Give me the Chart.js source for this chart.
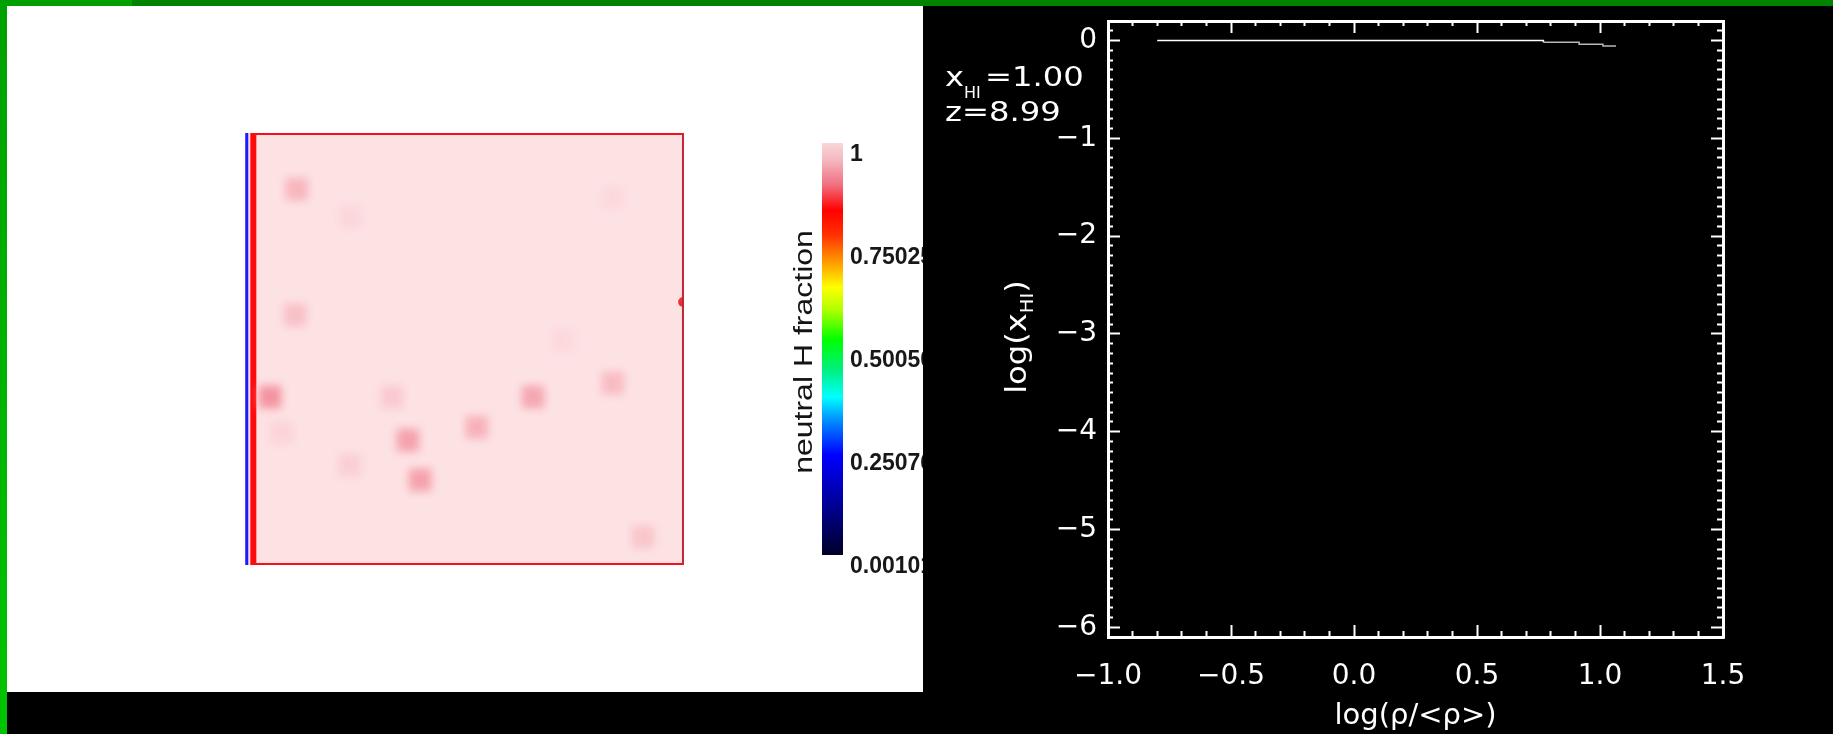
<!DOCTYPE html>
<html>
<head>
<meta charset="utf-8">
<script src="https://cdn.jsdelivr.net/npm/chart.js@4.4.1/dist/chart.umd.min.js"></script>
<style>
  html, body { margin: 0; padding: 0; }
  body { width: 1833px; height: 734px; background: #000; position: relative; overflow: hidden; }
  #greenTop { position: absolute; left: 0; top: 0; width: 1833px; height: 6px; background: #008400; }
  #greenTopLeft { position: absolute; left: 0; top: 0; width: 132px; height: 6px; background: #00a000; }
  #greenLeft { position: absolute; left: 0; top: 0; width: 7px; height: 734px; background: linear-gradient(#00a000, #00c400); }
  #leftPanel { position: absolute; left: 7px; top: 6px; width: 916px; height: 686px; background: #fff; }
  canvas { position: absolute; }
</style>
</head>
<body>
<div id="greenTop"></div>
<div id="greenTopLeft"></div>
<div id="greenLeft"></div>
<div id="leftPanel"></div>
<canvas id="map" width="459" height="452" style="left:235px;top:123px"></canvas>
<canvas id="cbar" width="163" height="480" style="left:760px;top:120px"></canvas>
<canvas id="plot" width="910" height="728" style="left:923px;top:6px"></canvas>

<script>
  // ---- slice of the box: a few slightly ionized cells on a fully neutral background ----
  const cellX = [0.118, 0.239, 0.114, 0.057, 0.335, 0.371, 0.528, 0.656, 0.838, 0.239, 0.399, 0.907, 0.838, 0.724, 0.084];
  const cellY = [0.870, 0.806, 0.579, 0.389, 0.389, 0.289, 0.319, 0.389, 0.421, 0.231, 0.197, 0.065, 0.850, 0.521, 0.306];
  const cellShade = [0.45, 0.12, 0.35, 0.80, 0.25, 0.65, 0.50, 0.60, 0.40, 0.20, 0.65, 0.30, 0.10, 0.10, 0.15];
  const hotX = [0.998];
  const hotY = [0.609];
  const rimX = [0.004, 0.019];
  const mapExtent = [0, 1];

  // ---- colour bar ----
  const cbTicks = [0.00101, 0.25076, 0.50050, 0.75025, 1];
  const cbLabels = ['0.00101', '0.25076', '0.50050', '0.75025', '1'];
  const rampStops = [0, 0.133, 0.243, 0.328, 0.383, 0.449, 0.522, 0.595, 0.650, 0.687, 0.728, 0.777, 0.837, 0.898, 0.959, 1];
  const rampColors = ['#000028', '#0000a0', '#0000ff', '#0090ff', '#00ffff', '#00f080', '#00ff00', '#b0ff00',
                      '#ffff00', '#ffc000', '#ff8000', '#ff3000', '#ff0000', '#f07080', '#f4b8c0', '#f9d6da'];

  // ---- x_HI against overdensity ----
  const logDensity = [-0.80, 0.77, 0.915, 1.012, 1.065];
  const logXHI = [0.0, -0.018, -0.037, -0.055, -0.055];
  const xMajor = [-1.0, -0.5, 0.0, 0.5, 1.0, 1.5];
  const xLabels = ['\u22121.0', '\u22120.5', '0.0', '0.5', '1.0', '1.5'];
  const yMajor = [0, -1, -2, -3, -4, -5, -6];
  const yLabels = ['0', '\u22121', '\u22122', '\u22123', '\u22124', '\u22125', '\u22126'];

  Chart.defaults.font.family = "'DejaVu Sans', sans-serif";
  Chart.defaults.animation = false;
  Chart.defaults.responsive = false;
  Chart.defaults.devicePixelRatio = 1;
  Chart.defaults.layout.autoPadding = false;
  Chart.defaults.plugins.legend.display = false;
  Chart.defaults.plugins.tooltip.enabled = false;

  // keep first/last tick labels from pushing the plot area inwards
  function noLabelOverflow(s) {
    s.paddingTop = 0; s.paddingBottom = 0; s.paddingLeft = 0; s.paddingRight = 0;
  }

  function shadeColor(s) {
    const bg = [253, 226, 228], deep = [240, 128, 144];
    const c = bg.map((v, i) => Math.round(v + (deep[i] - v) * s));
    return `rgb(${c[0]},${c[1]},${c[2]})`;
  }

  const mapPaper = {
    id: 'mapPaper',
    beforeDatasetsDraw(chart) {
      const {ctx, chartArea: a} = chart;
      ctx.save();
      ctx.fillStyle = '#fde2e4';
      ctx.fillRect(a.left, a.top, a.right - a.left, a.bottom - a.top);
      ctx.restore();
    },
    beforeDatasetDraw(chart, args) {
      if (args.index === 0) { chart.ctx.save(); chart.ctx.filter = 'blur(4px)'; }
    },
    afterDatasetDraw(chart, args) {
      if (args.index === 0) chart.ctx.restore();
    },
    afterDatasetsDraw(chart) {
      const {ctx, chartArea: a} = chart;
      const x0 = chart.scales.x.getPixelForValue(rimX[1]);
      ctx.save();
      ctx.strokeStyle = '#f5101c';
      ctx.lineWidth = 2;
      ctx.beginPath();
      ctx.moveTo(x0, a.top + 1); ctx.lineTo(a.right, a.top + 1);
      ctx.moveTo(x0, a.bottom - 1); ctx.lineTo(a.right, a.bottom - 1);
      ctx.stroke();
      ctx.strokeStyle = '#c42838';
      ctx.beginPath();
      ctx.moveTo(a.right - 1, a.top); ctx.lineTo(a.right - 1, a.bottom);
      ctx.stroke();
      ctx.restore();
    }
  };

  new Chart(document.getElementById('map'), {
    type: 'scatter',
    data: {
      datasets: [
        {
          data: cellX.map((x, i) => ({x, y: cellY[i]})),
          pointStyle: 'rect',
          pointRadius: 16,
          pointBorderWidth: 0,
          pointBackgroundColor: cellShade.map(shadeColor)
        },
        {
          data: hotX.map((x, i) => ({x, y: hotY[i]})),
          pointRadius: 5,
          pointBorderWidth: 0,
          pointBackgroundColor: '#e8303c',
          clip: 0
        },
        {
          data: mapExtent.map(y => ({x: rimX[0], y})),
          showLine: true, borderColor: '#1a1aff', borderWidth: 3, pointRadius: 0
        },
        {
          data: mapExtent.map(y => ({x: rimX[1], y})),
          showLine: true, borderColor: '#ff0a0a', borderWidth: 6, pointRadius: 0
        }
      ]
    },
    options: {
      layout: {padding: 10},
      scales: {
        x: {type: 'linear', min: mapExtent[0], max: mapExtent[1], display: false},
        y: {type: 'linear', min: mapExtent[0], max: mapExtent[1], display: false}
      }
    },
    plugins: [mapPaper]
  });

  // colour bar title, drawn sideways
  const barTitle = {
    id: 'barTitle',
    afterDraw(chart) {
      const ctx = chart.ctx;
      ctx.save();
      ctx.translate(43, 232);
      ctx.rotate(-Math.PI / 2);
      ctx.scale(1.28, 1);
      ctx.font = "25px 'Liberation Sans'";
      ctx.fillStyle = '#141414';
      ctx.textAlign = 'center';
      ctx.textBaseline = 'alphabetic';
      ctx.fillText('neutral H fraction', 0, 9);
      ctx.restore();
    }
  };

  function rampGradient(chart) {
    const a = chart.chartArea;
    if (!a) return '#ffffff';
    const g = chart.ctx.createLinearGradient(0, a.bottom, 0, a.top);
    rampStops.forEach((s, i) => g.addColorStop(s, rampColors[i]));
    return g;
  }

  new Chart(document.getElementById('cbar'), {
    type: 'bar',
    data: {
      labels: [''],
      datasets: [{
        data: [[cbTicks[0], cbTicks[cbTicks.length - 1]]],
        backgroundColor: c => rampGradient(c.chart),
        borderWidth: 0,
        barPercentage: 1,
        categoryPercentage: 1
      }]
    },
    options: {
      layout: {padding: {left: 62, top: 23, bottom: 45, right: 0}},
      scales: {
        x: {display: false},
        y: {
          position: 'right',
          min: cbTicks[0],
          max: cbTicks[cbTicks.length - 1],
          afterBuildTicks: s => { s.ticks = cbTicks.map(v => ({value: v})); },
          afterFit: s => { s.width = 80; noLabelOverflow(s); },
          grid: {display: false, drawTicks: false},
          border: {display: false},
          ticks: {
            padding: 7,
            color: '#181818',
            font: {family: "'Liberation Sans'", size: 23, weight: 'bold', lineHeight: 1.05},
            callback: (v, i) => ['', cbLabels[i]]
          }
        }
      }
    },
    plugins: [barTitle]
  });

  // ---- right panel: IDL-style framed plot with inward ticks on all sides ----
  const xMinor = [];
  for (let i = -10; i <= 15; i++) xMinor.push(i / 10);
  const yMinor = [];
  for (let i = -61; i <= 2; i++) yMinor.push(i / 10);

  const near = (a, b) => Math.abs(a - b) < 1e-6;

  function idlAxis(pos, lo, hi, ticks, majors, labels, padding, size, extra) {
    const inner = pos === 'left' || pos === 'top';
    const horizontal = pos === 'top' || pos === 'bottom';
    return Object.assign({
      type: 'linear',
      position: pos,
      min: lo,
      max: hi,
      afterBuildTicks: s => { s.ticks = ticks.map(v => ({value: v})); },
      afterFit: s => {
        if (horizontal) s.height = size; else s.width = size;
        noLabelOverflow(s);
      },
      grid: {
        display: true,
        drawOnChartArea: false,
        drawTicks: true,
        tickLength: -12,
        tickWidth: 2,
        tickColor: '#ffffff',
        tickBorderDash: c => (!c.tick || majors.some(m => near(m, c.tick.value))) ? [] : (inner ? [0, 7, 8, 100] : [8, 100])
      },
      border: {display: true, color: '#ffffff', width: 3},
      ticks: {
        display: !!labels,
        autoSkip: false,
        maxRotation: 0,
        minRotation: 0,
        padding: padding,
        color: '#ffffff',
        font: {size: 28},
        callback: v => {
          if (!labels) return '';
          const k = majors.findIndex(m => near(m, v));
          return k < 0 ? '' : labels[k];
        }
      }
    }, extra || {});
  }

  const plotText = {
    id: 'plotText',
    afterDraw(chart) {
      const ctx = chart.ctx;
      ctx.save();
      ctx.fillStyle = '#ffffff';
      ctx.textBaseline = 'alphabetic';

      // x_HI = 1.00 / z = 8.99 stamp
      const big = "26px 'DejaVu Sans'";
      ctx.save(); ctx.translate(22, 80); ctx.scale(1.24, 1); ctx.font = big; ctx.fillText('x', 0, 0); ctx.restore();
      ctx.font = "16px 'DejaVu Sans'";
      ctx.fillText('HI', 41, 92);
      ctx.save(); ctx.translate(62, 80); ctx.scale(1.24, 1); ctx.font = big; ctx.fillText('=1.00', 0, 0); ctx.restore();
      ctx.save(); ctx.translate(22, 115); ctx.scale(1.24, 1); ctx.font = big; ctx.fillText('z=8.99', 0, 0); ctx.restore();

      // y axis title log(x_HI)
      ctx.save();
      ctx.translate(95, 331);
      ctx.rotate(-Math.PI / 2);
      ctx.scale(1.15, 1);
      const main = "28px 'DejaVu Sans'", sub = "17px 'DejaVu Sans'";
      ctx.font = main;
      const wa = ctx.measureText('log(x').width, wc = ctx.measureText(')').width;
      ctx.font = sub;
      const wb = ctx.measureText('HI').width;
      let x = -(wa + wb + wc) / 2;
      ctx.font = main; ctx.fillText('log(x', x, 8); x += wa;
      ctx.font = sub; ctx.fillText('HI', x, 15); x += wb;
      ctx.font = main; ctx.fillText(')', x, 8);
      ctx.restore();

      ctx.restore();
    }
  };

  new Chart(document.getElementById('plot'), {
    type: 'scatter',
    data: {
      datasets: [{
        data: logDensity.map((x, i) => ({x, y: logXHI[i]})),
        showLine: true,
        stepped: 'before',
        borderColor: '#ffffff',
        borderWidth: 1.5,
        pointRadius: 0,
        segment: {borderColor: c => c.p0DataIndex > 0 ? '#b8b8b8' : '#ffffff'}
      }]
    },
    options: {
      layout: {padding: {left: 0, top: 15, right: 110, bottom: 0}},
      scales: {
        x: idlAxis('bottom', -1.0, 1.5, xMinor, xMajor, xLabels, 35, 97, {
          title: {display: true, text: 'log(\u03c1/<\u03c1>)', color: '#ffffff', font: {size: 29}, padding: {top: 0, bottom: 0}}
        }),
        x2: idlAxis('top', -1.0, 1.5, xMinor, xMajor, null, 0, 0),
        y: idlAxis('left', -6.1, 0.2, yMinor, yMajor, yLabels, 23, 185),
        y2: idlAxis('right', -6.1, 0.2, yMinor, yMajor, null, 0, 0)
      }
    },
    plugins: [plotText]
  });
</script>
</body>
</html>
